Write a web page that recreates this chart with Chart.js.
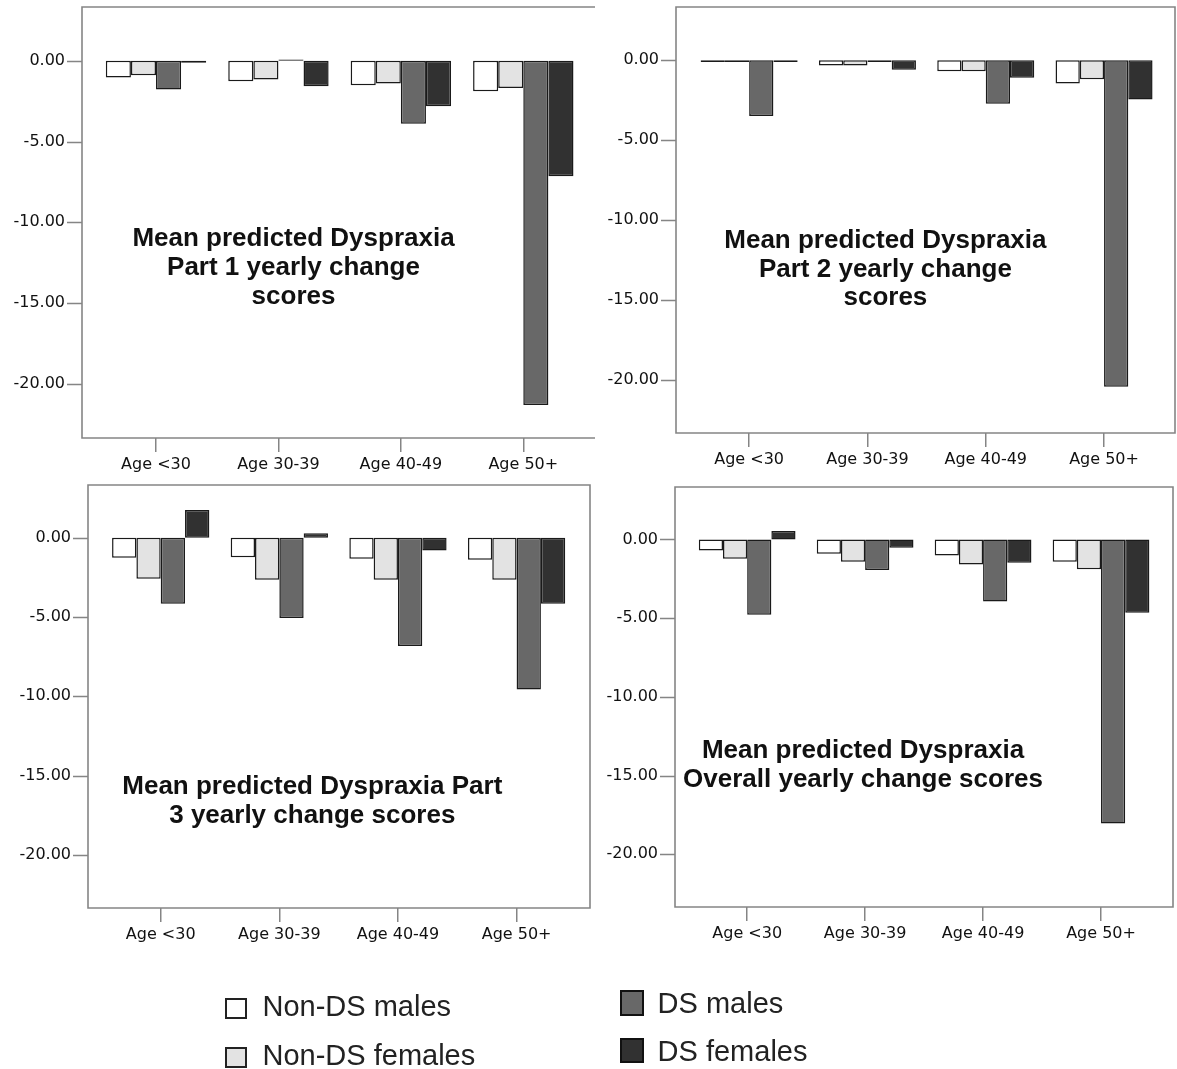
<!DOCTYPE html>
<html>
<head>
<meta charset="utf-8">
<title>Mean predicted Dyspraxia yearly change scores</title>
<script src="https://cdn.jsdelivr.net/npm/chart.js@4.4.1/dist/chart.umd.min.js"></script>
<style>
  html, body { margin: 0; padding: 0; background: #fff; }
  #page { position: relative; width: 1177px; height: 1069px; overflow: hidden; }
  #page canvas { position: absolute; left: 0; top: 0; }
  .legend-text { position: absolute; font-family: "Liberation Sans", Arial, sans-serif; font-size: 29px; line-height: 29px; color: #222; white-space: nowrap; }
  .legend-box { position: absolute; box-sizing: border-box; border: 2px solid #222; }
</style>
</head>
<body>
<div id="page">
  <canvas id="part1" width="1177" height="1069"></canvas>
  <canvas id="part2" width="1177" height="1069"></canvas>
  <canvas id="part3" width="1177" height="1069"></canvas>
  <canvas id="overall" width="1177" height="1069"></canvas>
</div>
<script>
// ---- data ----
const categories = ['Age <30', 'Age 30-39', 'Age 40-49', 'Age 50+'];
const groups = ['Non-DS males', 'Non-DS females', 'DS males', 'DS females'];
const yTicks = [0, -5, -10, -15, -20];

const part1Title = ['Mean predicted Dyspraxia', 'Part 1 yearly change', 'scores'];
const part1NonDsMales = [-1.03, -1.26, -1.51, -1.88];
const part1NonDsFemales = [-0.9, -1.16, -1.41, -1.68];
const part1DsMales = [-1.78, 0.08, -3.89, -21.3];
const part1DsFemales = [-0.12, -1.57, -2.82, -7.14];

const part2Title = ['Mean predicted Dyspraxia', 'Part 2 yearly change', 'scores'];
const part2NonDsMales = [-0.12, -0.33, -0.69, -1.46];
const part2NonDsFemales = [-0.12, -0.33, -0.69, -1.2];
const part2DsMales = [-3.5, -0.12, -2.73, -20.46];
const part2DsFemales = [-0.12, -0.6, -1.1, -2.46];

const part3Title = ['Mean predicted Dyspraxia Part', '3 yearly change scores'];
const part3NonDsMales = [-1.26, -1.22, -1.32, -1.38];
const part3NonDsFemales = [-2.58, -2.64, -2.64, -2.64];
const part3DsMales = [-4.16, -5.06, -6.82, -9.57];
const part3DsFemales = [1.76, 0.29, -0.8, -4.16];

const overallTitle = ['Mean predicted Dyspraxia', 'Overall yearly change scores'];
const overallNonDsMales = [-0.7, -0.91, -1.02, -1.42];
const overallNonDsFemales = [-1.23, -1.42, -1.59, -1.9];
const overallDsMales = [-4.78, -1.95, -3.94, -18.05];
const overallDsFemales = [0.53, -0.53, -1.48, -4.66];

// ---- styling / layout ----
const W = 1177, H = 1069;
const Y_W = 90, X_H = 60;
const Y_MIN = -23.35, Y_MAX = 3.33;
const barFills = ['#ffffff', '#e3e3e3', '#686868', '#313131'];
const frameColor = '#858585';
const tickFont = { family: '"DejaVu Sans", sans-serif', size: 16 };

const panels = [
  { id: 'part1', title: part1Title, series: [part1NonDsMales, part1NonDsFemales, part1DsMales, part1DsFemales],
    frame: { l: 82, t: 7, r: 595, b: 438 }, plotL: 94.8, plotR: 584.5, rightBorder: false,
    titleX: 293.5, titleY: [246, 275, 304] },
  { id: 'part2', title: part2Title, series: [part2NonDsMales, part2NonDsFemales, part2DsMales, part2DsFemales],
    frame: { l: 676, t: 7, r: 1175, b: 433 }, plotL: 690, plotR: 1163.2, rightBorder: true,
    titleX: 885.4, titleY: [248, 277, 305] },
  { id: 'part3', title: part3Title, series: [part3NonDsMales, part3NonDsFemales, part3DsMales, part3DsFemales],
    frame: { l: 88, t: 485, r: 590, b: 908 }, plotL: 101.4, plotR: 575.9, rightBorder: true,
    titleX: 312.3, titleY: [794, 823] },
  { id: 'overall', title: overallTitle, series: [overallNonDsMales, overallNonDsFemales, overallDsMales, overallDsFemales],
    frame: { l: 675, t: 487, r: 1173, b: 907 }, plotL: 688.2, plotR: 1160, rightBorder: true,
    titleX: 863, titleY: [758, 787] }
];

// frame, y tick marks and the inner title, drawn like the SPSS panels
function framePlugin(p) {
  return {
    id: 'frame_' + p.id,
    afterDraw(chart) {
      const { ctx } = chart;
      const f = p.frame;
      const y = chart.scales.y;
      ctx.save();
      ctx.strokeStyle = frameColor;
      ctx.lineWidth = 1.6;
      ctx.beginPath();
      if (p.rightBorder) {
        ctx.rect(f.l, f.t, f.r - f.l, f.b - f.t);
      } else {
        ctx.moveTo(f.r, f.t); ctx.lineTo(f.l, f.t); ctx.lineTo(f.l, f.b); ctx.lineTo(f.r, f.b);
      }
      yTicks.forEach(v => {
        const py = Math.round(y.getPixelForValue(v)) + 0.5;
        ctx.moveTo(f.l - 15, py);
        ctx.lineTo(f.l, py);
      });
      ctx.stroke();

      ctx.fillStyle = '#111';
      ctx.font = 'bold 26px "Liberation Sans", Arial, sans-serif';
      ctx.textAlign = 'center';
      ctx.textBaseline = 'alphabetic';
      p.title.forEach((line, i) => ctx.fillText(line, p.titleX, p.titleY[i]));
      ctx.restore();
    }
  };
}

panels.forEach(p => {
  const canvas = document.getElementById(p.id);
  new Chart(canvas, {
    type: 'bar',
    data: {
      labels: categories,
      datasets: groups.map((name, i) => ({
        label: name,
        data: p.series[i],
        backgroundColor: barFills[i],
        borderColor: '#1a1a1a',
        borderWidth: 1.5,
        borderSkipped: false,
        categoryPercentage: 0.82,
        barPercentage: 1
      }))
    },
    options: {
      responsive: false,
      animation: false,
      events: [],
      layout: {
        padding: { left: p.plotL - Y_W, right: W - p.plotR, top: p.frame.t, bottom: H - p.frame.b - X_H }
      },
      scales: {
        x: {
          offset: true,
          grid: { display: true, drawOnChartArea: false, drawTicks: true, tickLength: 14, offset: false, color: frameColor, lineWidth: 1.5 },
          border: { display: false },
          ticks: { font: tickFont, color: '#111', padding: 3, maxRotation: 0, autoSkip: false },
          afterFit(scale) { scale.height = X_H; scale.paddingLeft = 0; scale.paddingRight = 0; }
        },
        y: {
          min: Y_MIN, max: Y_MAX,
          grid: { display: false, drawTicks: false },
          border: { display: false },
          ticks: { font: tickFont, color: '#111', padding: p.plotL - p.frame.l + 17, callback: v => v.toFixed(2) },
          afterBuildTicks(scale) { scale.ticks = yTicks.map(v => ({ value: v })); },
          afterFit(scale) { scale.width = Y_W; scale.paddingTop = 0; scale.paddingBottom = 0; }
        }
      },
      plugins: { legend: { display: false }, tooltip: { enabled: false } }
    },
    plugins: [framePlugin(p)]
  });
});

// shared legend under the four panels
const legendPos = [
  { box: [225, 998, 22, 21], text: [262.5, 992] },
  { box: [225, 1047, 22, 21], text: [262.5, 1040.5] },
  { box: [620, 990, 24, 26], text: [657.6, 988.5] },
  { box: [620, 1038, 24, 25], text: [657.6, 1037] }
];
const page = document.getElementById('page');
groups.forEach((name, i) => {
  const pos = legendPos[i];
  const box = document.createElement('div');
  box.className = 'legend-box';
  Object.assign(box.style, { left: pos.box[0] + 'px', top: pos.box[1] + 'px', width: pos.box[2] + 'px', height: pos.box[3] + 'px', background: barFills[i] });
  if (i >= 2) box.style.borderColor = '#111';
  const label = document.createElement('div');
  label.className = 'legend-text';
  label.style.left = pos.text[0] + 'px';
  label.style.top = pos.text[1] + 'px';
  label.textContent = name;
  page.appendChild(box);
  page.appendChild(label);
});
</script>
</body>
</html>
